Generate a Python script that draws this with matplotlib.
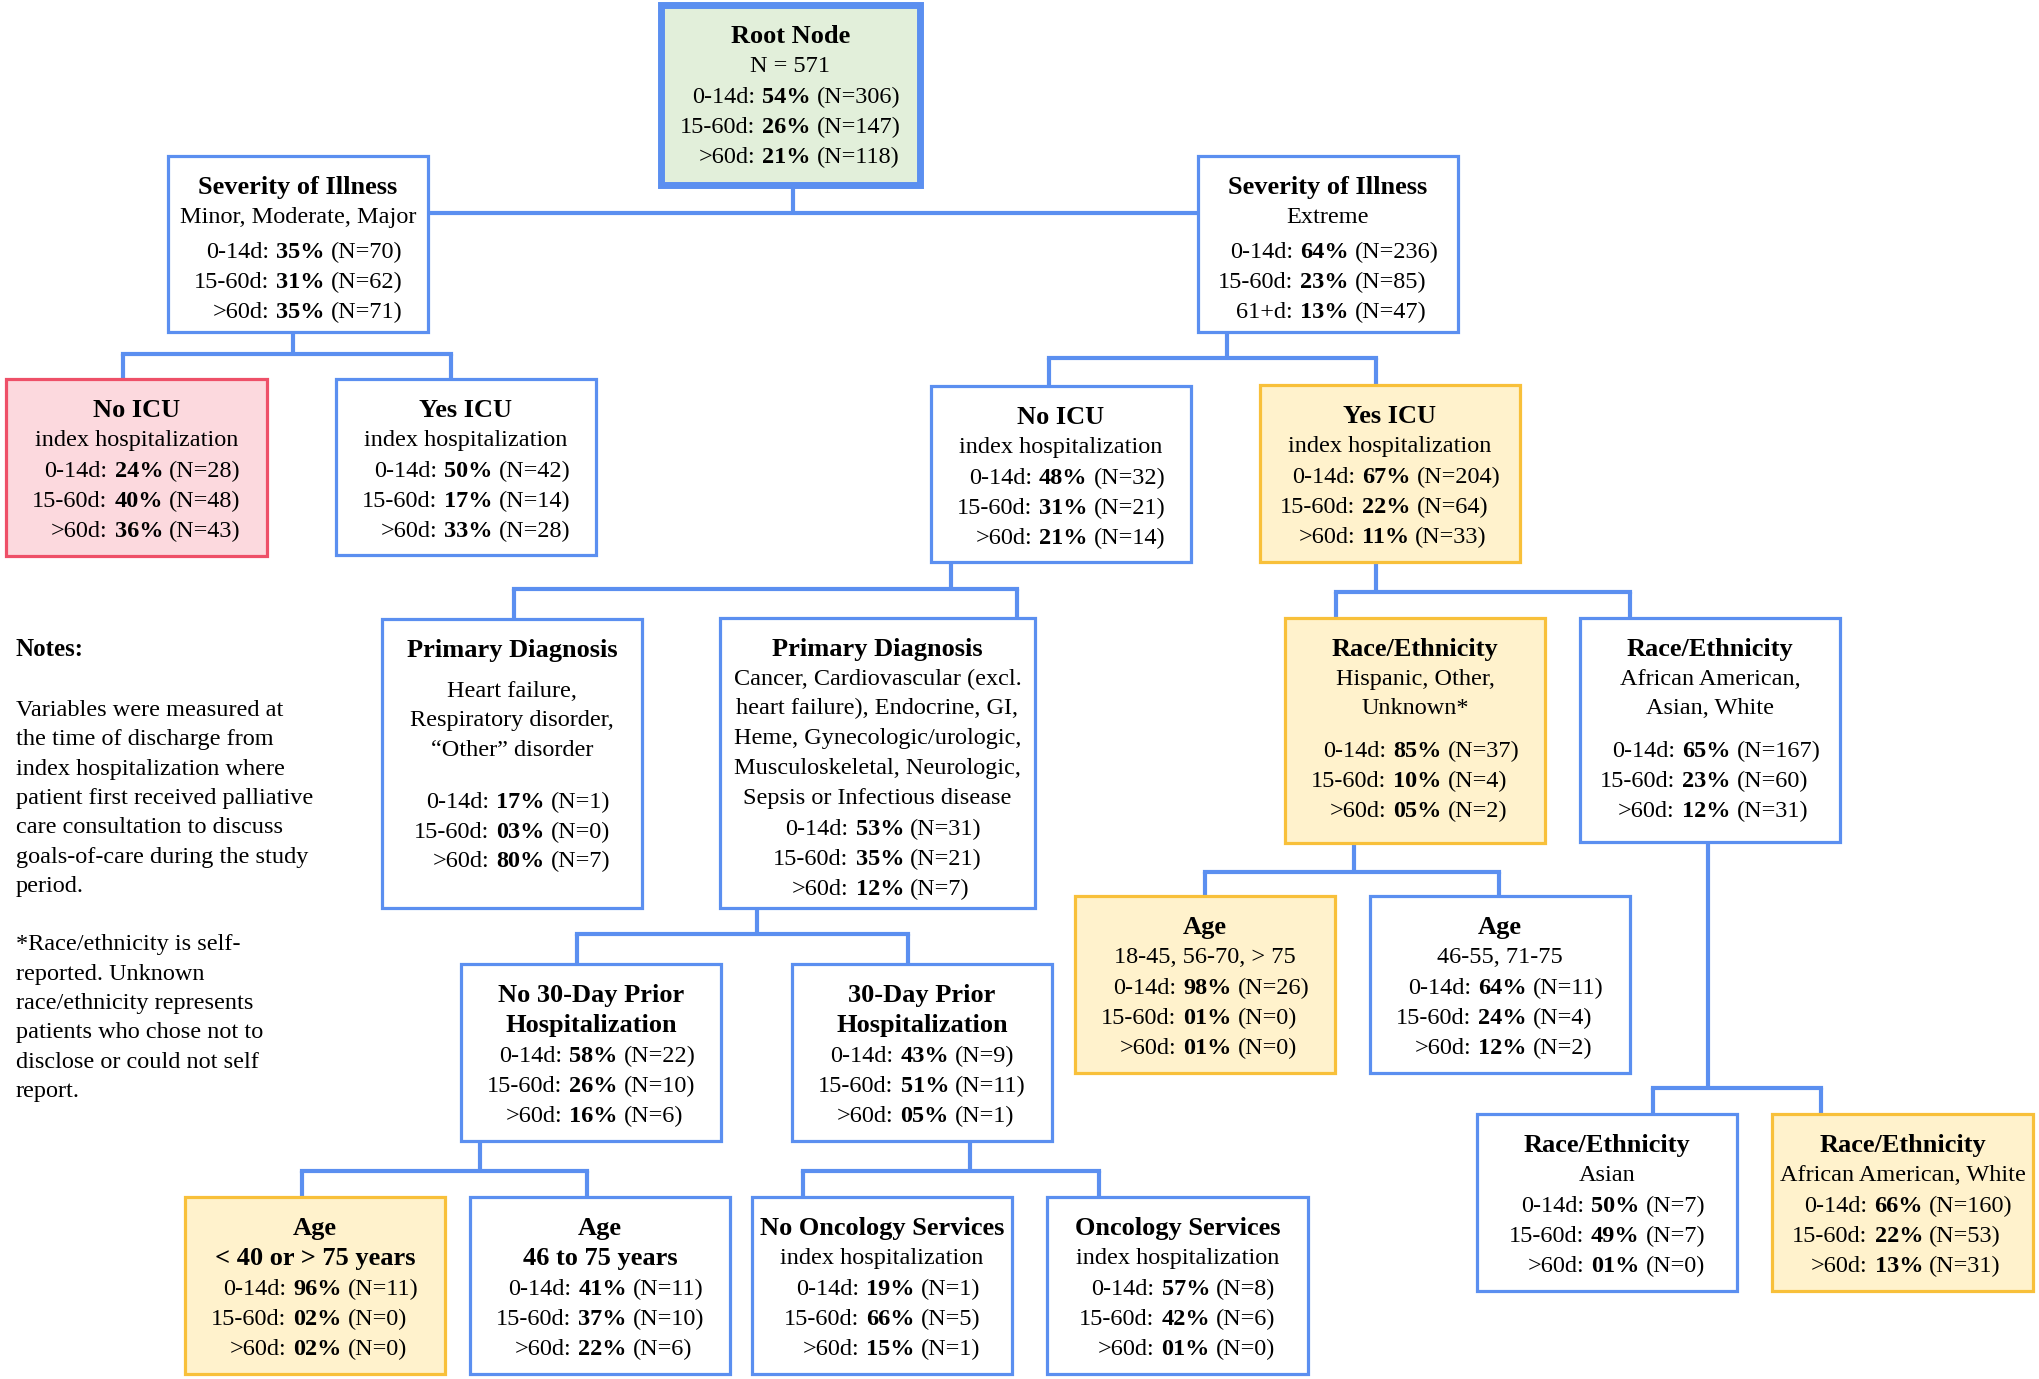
import matplotlib
matplotlib.use('Agg')
import matplotlib.pyplot as plt
from matplotlib.patches import Rectangle

# ---- data -------------------------------------------------------------
node_ids = ["root", "sev_lo", "sev_hi", "noicu_lo", "yesicu_lo", "noicu_hi",
            "yesicu_hi", "pd1", "pd2", "race1", "race2", "no30", "yes30",
            "age1", "age2", "age3", "age4", "noonc", "onc", "asian", "aaw"]

node_titles = ["Root Node", "Severity of Illness", "Severity of Illness",
               "No ICU", "Yes ICU", "No ICU", "Yes ICU",
               "Primary Diagnosis", "Primary Diagnosis",
               "Race/Ethnicity", "Race/Ethnicity",
               "No 30-Day Prior\nHospitalization", "30-Day Prior\nHospitalization",
               "Age", "Age", "Age\n< 40 or > 75 years", "Age\n46 to 75 years",
               "No Oncology Services", "Oncology Services",
               "Race/Ethnicity", "Race/Ethnicity"]

node_subtitles = ["N = 571", "Minor, Moderate, Major", "Extreme",
                  "index hospitalization", "index hospitalization",
                  "index hospitalization", "index hospitalization",
                  "Heart failure,\nRespiratory disorder,\n\u201cOther\u201d disorder",
                  "Cancer, Cardiovascular (excl.\nheart failure), Endocrine, GI,\n"
                  "Heme, Gynecologic/urologic,\nMusculoskeletal, Neurologic,\n"
                  "Sepsis or Infectious disease",
                  "Hispanic, Other,\nUnknown*", "African American,\nAsian, White",
                  "", "", "18-45, 56-70, > 75", "46-55, 71-75", "", "",
                  "index hospitalization", "index hospitalization",
                  "Asian", "African American, White"]

early_labels = ["0-14d"] * 21
mid_labels = ["15-60d"] * 21
late_labels = [">60d", ">60d", "61+d"] + [">60d"] * 18

pct_0_14 = ["54%", "35%", "64%", "24%", "50%", "48%", "67%", "17%", "53%", "85%", "65%",
            "58%", "43%", "98%", "64%", "96%", "41%", "19%", "57%", "50%", "66%"]
n_0_14 = [306, 70, 236, 28, 42, 32, 204, 1, 31, 37, 167, 22, 9, 26, 11, 11, 11, 1, 8, 7, 160]

pct_15_60 = ["26%", "31%", "23%", "40%", "17%", "31%", "22%", "03%", "35%", "10%", "23%",
             "26%", "51%", "01%", "24%", "02%", "37%", "66%", "42%", "49%", "22%"]
n_15_60 = [147, 62, 85, 48, 14, 21, 64, 0, 21, 4, 60, 10, 11, 0, 4, 0, 10, 5, 6, 7, 53]

pct_late = ["21%", "35%", "13%", "36%", "33%", "21%", "11%", "80%", "12%", "05%", "12%",
            "16%", "05%", "01%", "12%", "02%", "22%", "15%", "01%", "01%", "13%"]
n_late = [118, 71, 47, 43, 28, 14, 33, 7, 7, 2, 31, 6, 1, 0, 2, 0, 6, 1, 0, 0, 31]

# parent -> children
tree = {"root": ["sev_lo", "sev_hi"],
        "sev_lo": ["noicu_lo", "yesicu_lo"],
        "sev_hi": ["noicu_hi", "yesicu_hi"],
        "noicu_hi": ["pd1", "pd2"],
        "yesicu_hi": ["race1", "race2"],
        "pd2": ["no30", "yes30"],
        "race1": ["age1", "age2"],
        "no30": ["age3", "age4"],
        "yes30": ["noonc", "onc"],
        "race2": ["asian", "aaw"]}

highlight = {"root": "root", "noicu_lo": "red", "yesicu_hi": "gold", "race1": "gold",
             "age1": "gold", "age3": "gold", "aaw": "gold"}

notes_lines = ["Variables were measured at",
               "the time of discharge from",
               "index hospitalization where",
               "patient first received palliative",
               "care consultation to discuss",
               "goals-of-care during the study",
               "period.",
               "",
               "*Race/ethnicity is self-",
               "reported. Unknown",
               "race/ethnicity represents",
               "patients who chose not to",
               "disclose or could not self",
               "report."]

# ---- layout (pixel coordinates of the 2040x1379 canvas) -----------------
boxes = {"root": (661, 5, 920, 185),
         "sev_lo": (168, 156, 428, 332),
         "sev_hi": (1198, 156, 1458, 332),
         "noicu_lo": (6, 379, 267, 556),
         "yesicu_lo": (336, 379, 596, 555),
         "noicu_hi": (931, 386, 1191, 562),
         "yesicu_hi": (1260, 385, 1520, 562),
         "pd1": (382, 619, 642, 908),
         "pd2": (720, 618, 1035, 908),
         "race1": (1285, 618, 1545, 843),
         "race2": (1580, 618, 1840, 842),
         "no30": (461, 964, 721, 1141),
         "yes30": (792, 964, 1052, 1141),
         "age1": (1075, 896, 1335, 1073),
         "age2": (1370, 896, 1630, 1073),
         "age3": (185, 1197, 445, 1374),
         "age4": (470, 1197, 730, 1374),
         "noonc": (752, 1197, 1012, 1374),
         "onc": (1047, 1197, 1308, 1374),
         "asian": (1477, 1114, 1737, 1291),
         "aaw": (1772, 1114, 2033, 1291)}

# stem x, bar y, drop xs (None = bar joins the children's sides)
links = {"root": (793, 213, None),
         "sev_lo": (293, 354, (123, 451)),
         "sev_hi": (1227, 358, (1049, 1376)),
         "noicu_hi": (951, 589, (514, 1017)),
         "yesicu_hi": (1376, 592, (1336, 1630)),
         "pd2": (757, 934, (577, 908)),
         "race1": (1354, 872, (1205, 1499)),
         "no30": (480, 1171, (302, 587)),
         "yes30": (970, 1171, (803, 1099)),
         "race2": (1708, 1088, (1653, 1821))}

gap_title = {"pd1": 11}
gap_stats = {"pd1": 22, "race1": 13, "race2": 13, "sev_lo": 6, "sev_hi": 6}

BLUE = "#5B8FF0"
styles = {"plain": ("white", BLUE, 2.3),
          "root": ("#E2EFDA", BLUE, 5.0),
          "red": ("#FCD9DE", "#EE5068", 2.3),
          "gold": ("#FFF2CC", "#F8C03A", 2.3)}

SERIF = "Liberation Serif"
BODY = 17.5
TITLE = 19
STEP = 29.7

W, H = 2040, 1379
fig = plt.figure(figsize=(W / 100, H / 100), dpi=100)
ax = fig.add_axes([0, 0, 1, 1])
ax.set_xlim(0, W)
ax.set_ylim(H, 0)
ax.axis('off')
renderer = fig.canvas.get_renderer()


def txt(x, y, s, **kw):
    kw.setdefault("fontsize", BODY)
    kw.setdefault("va", "center_baseline")
    return ax.text(x, y, s, fontfamily=SERIF, color="black", zorder=4, **kw)


def stat_block(cx, y, labels, pcts, ns):
    """Tres linhas 'rotulo: pct (N=..)' alinhadas no ':' e centradas na caixa"""
    items, lefts, rights = [], [], []
    for k in range(3):
        yy = y + k * STEP
        t1 = txt(0, yy, labels[k] + ":", ha="right")
        t2 = txt(7, yy, pcts[k], ha="left", fontweight="bold")
        x_end = t2.get_window_extent(renderer).x1
        t3 = txt(x_end + 6, yy, f"(N={ns[k]})", ha="left")
        lefts.append(t1.get_window_extent(renderer).x0)
        rights.append(t3.get_window_extent(renderer).x1)
        items += [t1, t2, t3]
    shift = cx - (min(lefts) + max(rights)) / 2
    for t in items:
        x, yy = t.get_position()
        t.set_position((x + shift, yy))


# connectors
for parent, (sx, by, drops) in links.items():
    px0, py0, px1, py1 = boxes[parent]
    kids = tree[parent]
    ax.plot([sx, sx], [py1, by], color=BLUE, lw=3, zorder=1, solid_capstyle='butt')
    if drops is None:
        ax.plot([boxes[kids[0]][2], boxes[kids[1]][0]], [by, by], color=BLUE, lw=3, zorder=1)
    else:
        ax.plot([drops[0], drops[1]], [by, by], color=BLUE, lw=3, zorder=1,
                solid_capstyle='projecting')
        for dx, kid in zip(drops, kids):
            ax.plot([dx, dx], [by, boxes[kid][1]], color=BLUE, lw=3, zorder=1,
                    solid_capstyle='butt')

# nodes
for i, nid in enumerate(node_ids):
    x0, y0, x1, y1 = boxes[nid]
    face, edge, lw = styles[highlight.get(nid, "plain")]
    ax.add_patch(Rectangle((x0, y0), x1 - x0, y1 - y0, facecolor=face,
                           edgecolor=edge, lw=lw, zorder=2))
    cx = (x0 + x1) / 2
    y = y0 + 29
    for line in node_titles[i].split("\n"):
        txt(cx, y, line, ha="center", fontsize=TITLE, fontweight="bold")
        y += STEP
    y += gap_title.get(nid, 0)
    if node_subtitles[i]:
        for line in node_subtitles[i].split("\n"):
            txt(cx, y, line, ha="center")
            y += STEP
    y += gap_stats.get(nid, 2)
    stat_block(cx, y,
               [early_labels[i], mid_labels[i], late_labels[i]],
               [pct_0_14[i], pct_15_60[i], pct_late[i]],
               [n_0_14[i], n_15_60[i], n_late[i]])

# notes
txt(16, 647, "Notes:", ha="left", fontsize=18, fontweight="bold")
for k, line in enumerate(notes_lines):
    if line:
        txt(16, 708 + k * 29.3, line, ha="left")

fig.savefig("out.png", dpi=100, facecolor="white")
